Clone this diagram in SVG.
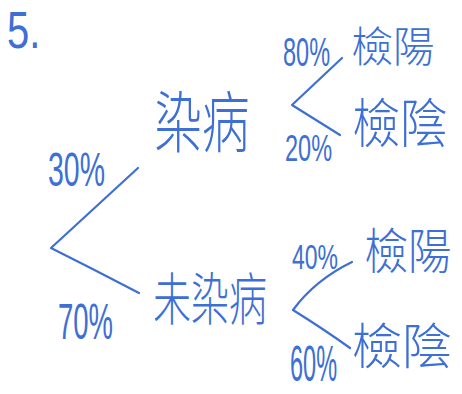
<svg xmlns="http://www.w3.org/2000/svg" width="462" height="394" viewBox="0 0 462 394">
<style>
.ln{stroke:#3d6fd4;stroke-width:2.2;fill:none;stroke-linecap:round;stroke-linejoin:round}
.cj{font-family:"Noto Sans CJK TC","Noto Sans CJK SC",sans-serif;font-weight:300;fill:#3d6fd4;text-anchor:middle;dominant-baseline:central}
.pc{font-family:"Liberation Sans","DejaVu Sans",sans-serif;fill:#3d6fd4}
</style>
<rect width="462" height="394" fill="#ffffff"/>
<text class="pc" transform="translate(7,48) scale(1,1.3)" font-size="40">5.</text>
<g id="connectors">
<path class="ln" d="M138,168 L51,248 Q95,270 139,293"/>
<path class="ln" d="M342,58 L292,105 L340,135"/>
<path class="ln" d="M352,262 Q315,280 293,310 Q325,330 350,348"/>
</g>
<g id="root-labels">
<text class="pc" transform="translate(48,186) scale(1,1.7)" font-size="28.5">30%</text>
<text class="pc" transform="translate(58,339) scale(1,1.85)" font-size="27.5">70%</text>
</g>
<g id="node-infected">
<text class="cj" transform="translate(202,118) scale(1,1.45)" font-size="46" textLength="95" lengthAdjust="spacingAndGlyphs">染病</text>
</g>
<g id="node-not-infected">
<text class="cj" transform="translate(210,295) scale(1,1.5)" font-size="38" textLength="114" lengthAdjust="spacingAndGlyphs">未染病</text>
</g>
<g id="labels-infected">
<text class="pc" transform="translate(283,66) scale(1,1.75)" font-size="23.5">80%</text>
<text class="pc" transform="translate(285,161) scale(1,1.6)" font-size="23.5">20%</text>
</g>
<g id="node-inf-pos">
<text class="cj" x="393" y="43" font-size="42" textLength="83" lengthAdjust="spacingAndGlyphs">檢陽</text>
</g>
<g id="node-inf-neg">
<text class="cj" transform="translate(400,120) scale(1,1.15)" font-size="46" textLength="95" lengthAdjust="spacingAndGlyphs">檢陰</text>
</g>
<g id="labels-not-infected">
<text class="pc" transform="translate(292,269) scale(1,1.5)" font-size="23">40%</text>
<text class="pc" transform="translate(290,381) scale(1,2.1)" font-size="23.5">60%</text>
</g>
<g id="node-not-pos">
<text class="cj" transform="translate(408,248) scale(1,1.1)" font-size="44" textLength="87" lengthAdjust="spacingAndGlyphs">檢陽</text>
</g>
<g id="node-not-neg">
<text class="cj" transform="translate(402,342) scale(1,1.05)" font-size="47" textLength="100" lengthAdjust="spacingAndGlyphs">檢陰</text>
</g>
</svg>
